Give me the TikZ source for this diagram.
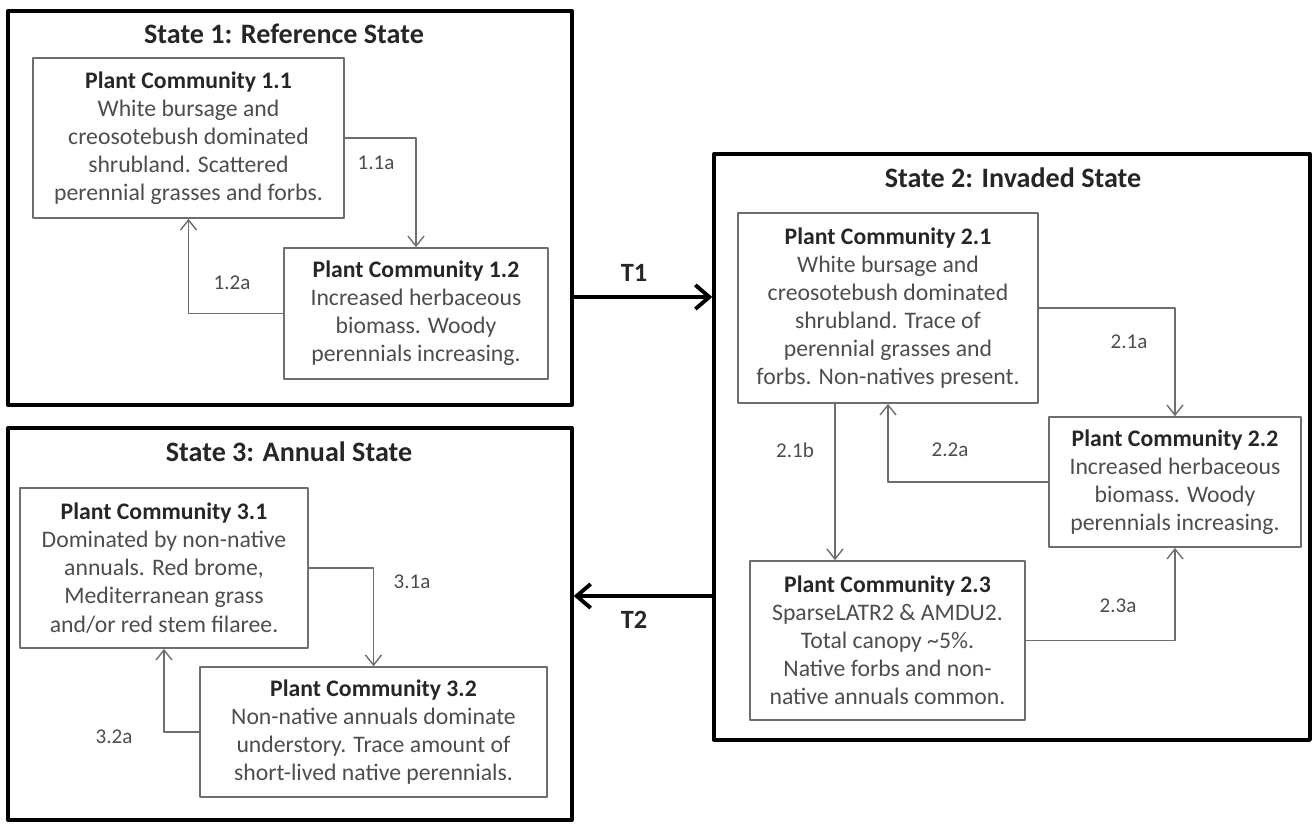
\documentclass[tikz,border=0pt]{standalone}
\usepackage{fontspec}
\setmainfont{Carlito}
\usetikzlibrary{arrows.meta}
\definecolor{boxgray}{HTML}{6E6E6E}
\definecolor{txtgray}{HTML}{4D4D4D}
\definecolor{headgray}{HTML}{262626}
\tikzset{
  every picture/.style={line join=round, line cap=round},
  statebox/.style={draw=black, line width=2pt, inner sep=0pt},
  statetitle/.style={font=\fontsize{16}{19}\selectfont\bfseries, text=headgray},
  pcbox/.style={draw=boxgray, line width=1pt, align=center, inner sep=0pt, text=txtgray, font=\fontsize{13.5}{16}\selectfont},
  link/.style={draw=boxgray, line width=0.8pt, -{Straight Barb[length=2mm,width=3.2mm]}},
  linklabel/.style={text=txtgray, font=\fontsize{12}{14}\selectfont},
  trans/.style={line width=2.2pt, -{Straight Barb[length=2.8mm,width=4.8mm]}},
  translabel/.style={font=\fontsize{15}{18}\selectfont\bfseries, text=headgray},
}
\newcommand{\pchead}[1]{{\bfseries\color{headgray}Plant Community #1}}

\begin{document}
\begin{tikzpicture}[x=0.02cm,y=-0.02cm]
\useasboundingbox (0,0) rectangle (1316,823);
\node[statebox, minimum width=11.28cm, minimum height=7.88cm] (state1) at (290,208) {};
\node[statebox, minimum width=11.92cm, minimum height=11.72cm] (state2) at (1012,447) {};
\node[statebox, minimum width=11.28cm, minimum height=7.84cm] (state3) at (290,624) {};
\node[statetitle] (title1) at (284,34) {State 1: Reference State};
\node[statetitle] (title2) at (1013,178) {State 2: Invaded State};
\node[statetitle] (title3) at (289,452) {State 3: Annual State};

\node[pcbox, minimum width=6.22cm, minimum height=3.2cm] (pc11) at (188.5,138)
  {\pchead{1.1}\\White bursage and\\creosotebush dominated\\shrubland. Scattered\\perennial grasses and forbs.};
\node[pcbox, minimum width=5.28cm, minimum height=2.62cm] (pc12) at (416,313.5)
  {\pchead{1.2}\\Increased herbaceous\\biomass. Woody\\perennials increasing.};
\node[pcbox, minimum width=6.0cm, minimum height=3.8cm] (pc21) at (888,308)
  {\pchead{2.1}\\White bursage and\\creosotebush dominated\\shrubland. Trace of\\perennial grasses and\\forbs. Non-natives present.};
\node[pcbox, minimum width=5.04cm, minimum height=2.6cm] (pc22) at (1175,482)
  {\pchead{2.2}\\Increased herbaceous\\biomass. Woody\\perennials increasing.};
\node[pcbox, minimum width=5.5cm, minimum height=3.18cm] (pc23) at (887.5,640.5)
  {\pchead{2.3}\\SparseLATR2 \& AMDU2.\\Total canopy \textasciitilde5\%.\\Native forbs and non-\\native annuals common.};
\node[pcbox, minimum width=5.76cm, minimum height=3.2cm] (pc31) at (164,568)
  {\pchead{3.1}\\Dominated by non-native\\annuals. Red brome,\\Mediterranean grass\\and/or red stem filaree.};
\node[pcbox, minimum width=6.94cm, minimum height=2.6cm] (pc32) at (373.5,732)
  {\pchead{3.2}\\Non-native annuals dominate\\understory. Trace amount of\\short-lived native perennials.};

\draw[link] (pc11.east) -| (pc12.north);
\draw[link] (pc12.west) -| (pc11.south);
\draw[link] (pc21.east) -| (pc22.north);
\draw[link] (pc22.west) -| (pc21.south);
\coordinate (b21) at (835,403);
\draw[link] (b21) -- (b21 |- pc23.north);
\draw[link] (pc23.east) -| (pc22.south);
\draw[link] (pc31.east) -| (pc32.north);
\draw[link] (pc32.west) -| (pc31.south);
\foreach \lab/\nm/\px/\py in {1.1a/l11a/376/163, 1.2a/l12a/232/283, 2.1a/l21a/1129/342, 2.2a/l22a/950/450,
  2.1b/l21b/795/450, 2.3a/l23a/1118/606, 3.1a/l31a/412/582, 3.2a/l32a/114/737}
  \node[linklabel] (\nm) at (\px,\py) {\lab};

\coordinate (t1) at (572,297);
\coordinate (t2) at (714,596);
\draw[trans] (t1) -- (t1 -| state2.west);
\draw[trans] (t2) -- (t2 -| state1.east);
\node[translabel] (lt1) at (634,273) {T1};
\node[translabel] (lt2) at (634,620) {T2};
\end{tikzpicture}
\end{document}
